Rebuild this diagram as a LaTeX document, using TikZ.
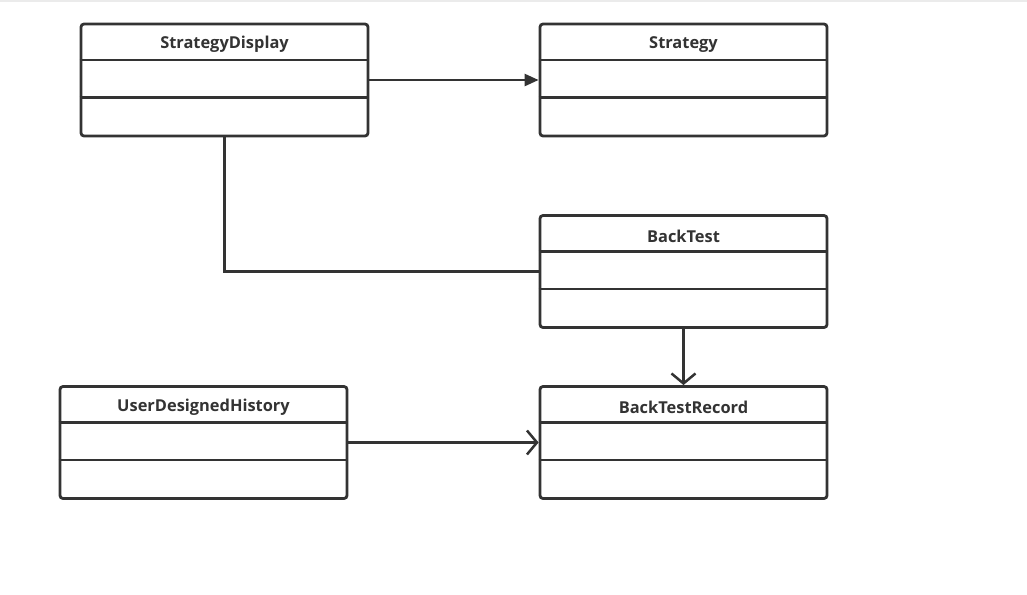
\documentclass[tikz,border=0pt]{standalone}
\usepackage{fontspec}
\setmainfont{Open Sans}
\usetikzlibrary{arrows.meta,calc}
\definecolor{ink}{HTML}{333333}
\tikzset{
  classbox/.style={draw=ink, line width=2.8pt*0.75, rounded corners=3pt*0.75,
    minimum width=287*0.75pt, minimum height=112*0.75pt, inner sep=0pt, fill=white},
  divider/.style={draw=ink, line width=2.4pt*0.75},
  title/.style={font=\bfseries\fontsize{12.3}{14}\selectfont, text=ink, inner sep=0pt},
  conn/.style={draw=ink, line width=2.5pt*0.75},
}
\newcommand{\umlclass}[4]{%
  \node[classbox] (#1) at (#2,#3) {};
  \node[title] (#1-t) at ($(#1.north)+(0,22)$) {#4};
  \draw[divider] ($(#1.north west)+(0,37.5)$) -- ($(#1.north east)+(0,37.5)$);
  \draw[divider] ($(#1.north west)+(0,75)$) -- ($(#1.north east)+(0,75)$);
}
\begin{document}
\begin{tikzpicture}[x=0.75pt,y=-0.75pt]
\useasboundingbox (0,0) rectangle (1027,594);
\fill[white] (0,0) rectangle (1027,594);
\fill[black!8] (0,0) rectangle (1027,1.5);
\umlclass{sd}{224.5}{80}{StrategyDisplay}
\umlclass{st}{683.5}{80}{Strategy}
\umlclass{bt}{683.5}{271.5}{BackTest}
\umlclass{udh}{203.5}{442.5}{UserDesignedHistory}
\umlclass{btr}{683.5}{442.5}{BackTestRecord}
\draw[conn, -{Triangle[length=14pt*0.75, width=12pt*0.75]}] (sd.east) -- (st.west);
\draw[conn] (sd.south) |- (bt.west);
\draw[conn, -{Straight Barb[length=10pt*0.75, width=24pt*0.75, line width=2.5pt*0.75]}] (bt.south) -- (btr.north);
\draw[conn, -{Straight Barb[length=10pt*0.75, width=24pt*0.75, line width=2.5pt*0.75]}] (udh.east) -- (btr.west);
\end{tikzpicture}
\end{document}
